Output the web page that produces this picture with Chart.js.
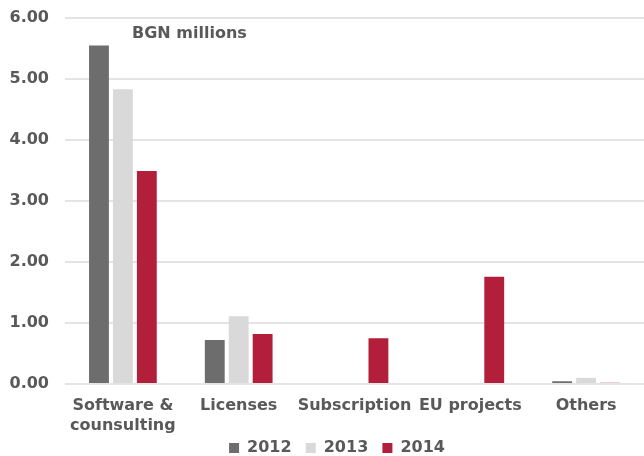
<!DOCTYPE html>
<html>
<head>
<meta charset="utf-8">
<script src="https://cdn.jsdelivr.net/npm/chart.js@4"></script>
<style>
  html, body { margin: 0; padding: 0; background: #fff; }
  #wrap { width: 644px; height: 456px; }
</style>
</head>
<body>
<div id="wrap"><canvas id="barchart"></canvas></div>
<script>
// revenue by business line, BGN millions
var categories = [["Software &", "counsulting"], "Licenses", "Subscription", "EU projects", "Others"];
var years = ["2012", "2013", "2014"];
var values2012 = [5.55, 0.72, 0, 0, 0.045];
var values2013 = [4.83, 1.11, 0, 0, 0.10];
var values2014 = [3.49, 0.82, 0.75, 1.76, 0.02];
var yTicks = [0, 1, 2, 3, 4, 5, 6];
var unitLabel = "BGN millions";

var textColor = "#595959";
var fontFamily = "'DejaVu Sans', Verdana, sans-serif";

// unit label sits inside the plot area, near the top left
var unitPlugin = {
    id: "unitLabel",
    afterDraw: function(chart) {
        var ctx = chart.ctx;
        var area = chart.chartArea;
        ctx.save();
        ctx.font = "bold 16px " + fontFamily;
        ctx.fillStyle = textColor;
        ctx.textBaseline = "middle";
        ctx.fillText(unitLabel, area.left + 67, area.top + 16);
        ctx.restore();
    }
};

// nudge the legend a little to the right, under the plot
var legendShift = {
    id: "legendShift",
    afterLayout: function(chart) {
        if (chart.legend) {
            chart.legend.left += 13;
            chart.legend.right += 13;
        }
    }
};

var ctx = document.getElementById("barchart").getContext("2d");
var chart = new Chart(ctx, {
    type: "bar",
    data: {
        labels: categories,
        datasets: [{
            label: years[0],
            data: values2012,
            backgroundColor: "#6d6d6d"
        }, {
            label: years[1],
            data: values2013,
            backgroundColor: "#d9d9d9"
        }, {
            label: years[2],
            data: values2014,
            backgroundColor: "#b31e3a"
        }]
    },
    options: {
        responsive: true,
        maintainAspectRatio: false,
        animation: false,
        devicePixelRatio: 1,
        layout: {
            padding: { top: 18, right: -4, left: 0, bottom: -10 }
        },
        datasets: {
            bar: {
                barPercentage: 0.83,
                categoryPercentage: 0.62,
                borderWidth: 0
            }
        },
        plugins: {
            tooltip: { enabled: false },
            legend: {
                position: "bottom",
                labels: {
                    boxWidth: 10,
                    boxHeight: 10,
                    padding: 3,
                    color: textColor,
                    font: { family: fontFamily, size: 16, weight: "bold" },
                    // small padding keeps the legend low, so space the items with blanks
                    generateLabels: function(chart) {
                        var items = Chart.defaults.plugins.legend.labels.generateLabels(chart);
                        items.forEach(function(item, i) {
                            if (i < items.length - 1) item.text = item.text + "  ";
                        });
                        return items;
                    }
                }
            }
        },
        scales: {
            x: {
                grid: { display: false, drawTicks: false },
                border: { display: false },
                afterFit: function(scale) {
                    scale.height = 53;
                    scale.paddingLeft = 0;
                    scale.paddingRight = 0;
                },
                ticks: {
                    color: textColor,
                    padding: 12,
                    maxRotation: 0,
                    autoSkip: false,
                    font: { family: fontFamily, size: 16, weight: "bold", lineHeight: 1.25 }
                }
            },
            y: {
                min: 0,
                max: 6,
                afterBuildTicks: function(axis) {
                    axis.ticks = yTicks.map(function(v) { return { value: v }; });
                },
                afterFit: function(scale) {
                    scale.width = 65;
                    scale.paddingTop = 0;
                    scale.paddingBottom = 0;
                },
                grid: {
                    color: "#e4e4e4",
                    lineWidth: 2,
                    drawTicks: false
                },
                border: { display: false },
                ticks: {
                    color: textColor,
                    padding: 16,
                    font: { family: fontFamily, size: 16, weight: "bold" },
                    callback: function(v) { return v.toFixed(2); }
                }
            }
        }
    },
    plugins: [unitPlugin, legendShift]
});
</script>
</body>
</html>
